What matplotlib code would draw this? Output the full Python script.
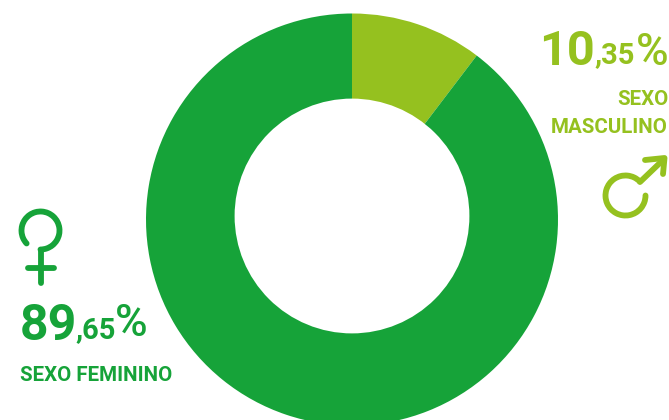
import matplotlib
matplotlib.use('Agg')
import matplotlib.pyplot as plt
from matplotlib.patches import Arc, Circle

# values
labels = ['SEXO MASCULINO', 'SEXO FEMININO']
values = [10.35, 89.65]
colors = ['#95c11f', '#16a339']

W, H = 669, 420
plt.rcParams['font.family'] = ['Roboto', 'DejaVu Sans']

fig = plt.figure(figsize=(W / 100, H / 100), dpi=100)
ax = fig.add_axes([0, 0, 1, 1])
ax.set_xlim(0, W)
ax.set_ylim(H, 0)
ax.axis('off')

# donut, y axis is flipped so the start angle is -90 to begin at the top
ax.pie(values, colors=colors, startangle=-90, counterclock=True,
       center=(352, 219.5), radius=206, frame=False,
       wedgeprops=dict(linewidth=0))
ax.set_xlim(0, W)
ax.set_ylim(H, 0)
ax.set_aspect('equal')

# the hole sits a little above the ring's centre in the original
ax.add_patch(Circle((352, 216), 117.4, fc='white', ec='none', zorder=3))

green_l = colors[0]
green_d = colors[1]

# right labels
ax.text(595, 65, '10', fontsize=35, fontweight='bold', color=green_l, ha='right', va='baseline')
ax.text(594, 63, ',35', fontsize=21, fontweight='bold', color=green_l, ha='left', va='baseline')
ax.text(668, 65, '%', fontsize=32, fontweight='medium', color=green_l, ha='right', va='baseline')
ax.text(668, 105, 'SEXO', fontsize=14.75, fontweight='bold', color=green_l, ha='right', va='baseline')
ax.text(668, 133, 'MASCULINO', fontsize=14.75, fontweight='bold', color=green_l, ha='right', va='baseline')

# left labels
ax.text(20, 340, '89', fontsize=36, fontweight='bold', color=green_d, ha='left', va='baseline')
ax.text(75, 338, ',65', fontsize=21, fontweight='bold', color=green_d, ha='left', va='baseline')
ax.text(115, 336, '%', fontsize=32, fontweight='medium', color=green_d, ha='left', va='baseline')
ax.text(20, 381, 'SEXO FEMININO', fontsize=14.75, fontweight='bold', color=green_d, ha='left', va='baseline')

# female symbol
ax.add_patch(Arc((40.5, 230.5), 38, 38, theta1=137, theta2=450, ec=green_d, lw=4.2, capstyle='round'))
ax.plot([40.5, 40.5], [250, 283], color=green_d, lw=4.2, solid_capstyle='round')
ax.plot([28, 54], [268, 268], color=green_d, lw=4.2, solid_capstyle='round')

# male symbol
ax.add_patch(Arc((625.5, 195.5), 40, 40, theta1=0, theta2=315, ec=green_l, lw=4.2, capstyle='round'))
ax.plot([640, 663], [182, 160], color=green_l, lw=4.2, solid_capstyle='round')
ax.plot([645, 664.5, 663], [160, 158, 174], color=green_l, lw=4.2, solid_joinstyle='round', solid_capstyle='round')

fig.savefig('out.png', dpi=100)
